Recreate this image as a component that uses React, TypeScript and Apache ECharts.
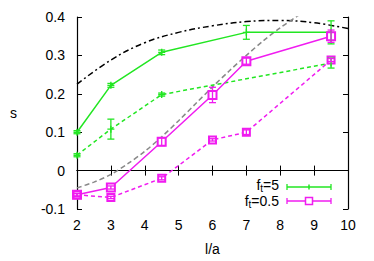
import React, { useEffect, useRef } from "react";
import * as echarts from "echarts";

const xTicks = [2, 3, 4, 5, 6, 7, 8, 9, 10];
const yTicks = [-0.1, 0, 0.1, 0.2, 0.3, 0.4];

// f_t = 5 (green)
const greenSolidX = [2, 3, 4.5, 7, 9.5];
const greenSolidY = [0.1, 0.222, 0.308, 0.36, 0.36];
const greenSolidErr = [0.004, 0.005, 0.006, 0.018, 0.03];

const greenDashX = [2, 3, 4.5, 9.5];
const greenDashY = [0.04, 0.108, 0.198, 0.28];
const greenDashErr = [0.004, 0.026, 0.004, 0.013];

// f_t = 0.5 (magenta)
const magSolidX = [2, 3, 4.5, 6, 7, 9.5];
const magSolidY = [-0.063, -0.044, 0.075, 0.197, 0.285, 0.35];
const magSolidErr = [0.004, 0.004, 0.01, 0.02, 0.008, 0.016];

const magDashX = [2, 3, 4.5, 6, 7, 9.5];
const magDashY = [-0.063, -0.07, -0.02, 0.08, 0.1, 0.288];
const magDashErr = [0.003, 0.003, 0.004, 0.003, 0.006, 0.004];

// reference curves
const blackCurveX = [2, 3, 4, 5, 6, 7, 8, 9, 10];
const blackCurveY = [0.225, 0.288, 0.333, 0.36, 0.377, 0.388, 0.391, 0.385, 0.37];

const grayCurveX = [2, 2.5, 3, 3.5, 4, 4.5, 5, 5.5, 6, 6.5, 7, 7.5, 8, 8.5, 9];
const grayCurveY = [-0.045, -0.03, -0.01, 0.018, 0.05, 0.088, 0.13, 0.174, 0.218, 0.26, 0.3, 0.338, 0.372, 0.402, 0.43];

const GREEN = "#22e622";
const MAGENTA = "#f01cf0";

const zip = (xs: number[], ys: number[]) => xs.map((x, i) => [x, ys[i]]);
const zip3 = (xs: number[], ys: number[], es: number[]) => xs.map((x, i) => [x, ys[i], es[i]]);

const PLUS = "path://M4,0H6V4H10V6H6V10H4V6H0V4H4Z";

function errorSeries(data: number[][], color: string) {
  return {
    type: "custom",
    xAxisIndex: 0,
    yAxisIndex: 0,
    silent: true,
    data,
    renderItem: (params: any, api: any) => {
      const x = api.value(0);
      const y = api.value(1);
      const e = api.value(2);
      const lo = api.coord([x, y - e]);
      const hi = api.coord([x, y + e]);
      const w = 3.5;
      const st = { stroke: color, lineWidth: 1.3 };
      return {
        type: "group",
        children: [
          { type: "line", shape: { x1: lo[0], y1: lo[1], x2: hi[0], y2: hi[1] }, style: st },
          { type: "line", shape: { x1: lo[0] - w, y1: lo[1], x2: lo[0] + w, y2: lo[1] }, style: st },
          { type: "line", shape: { x1: hi[0] - w, y1: hi[1], x2: hi[0] + w, y2: hi[1] }, style: st },
        ],
      };
    },
    z: 3,
  };
}

export default function App() {
  const ref = useRef<HTMLDivElement>(null);
  useEffect(() => {
    if (!ref.current) return;
    const chart = echarts.init(ref.current, undefined, { renderer: "svg" });
    const font = "Liberation Sans, Arial, sans-serif";
    const axisCommon = {
      axisLine: { show: true, lineStyle: { color: "#000", width: 1.2 } },
      axisTick: { show: true, inside: true, length: 5, lineStyle: { color: "#000", width: 1 } },
      splitLine: { show: false },
    };
    const legendRich = {
      a: { fontSize: 14, fontFamily: font, color: "#000" },
      s: { fontSize: 10, fontFamily: font, color: "#000", padding: [7, 0, 0, 0] },
    };
    chart.setOption({
      animation: false,
      backgroundColor: "#fff",
      grid: { left: 77, right: 26, top: 17, bottom: 46 },
      xAxis: [
        {
          type: "value",
          min: 2,
          max: 10,
          interval: 1,
          position: "bottom",
          name: "l/a",
          nameLocation: "middle",
          nameGap: 33,
          nameTextStyle: { fontSize: 14, fontFamily: font, color: "#000" },
          axisLabel: { fontSize: 14, fontFamily: font, color: "#000", margin: 9 },
          ...axisCommon,
        },
        {
          type: "value",
          min: 2,
          max: 10,
          interval: 1,
          position: "top",
          axisLabel: { show: false },
          ...axisCommon,
        },
      ],
      yAxis: [
        {
          type: "value",
          min: -0.1,
          max: 0.4,
          interval: 0.1,
          position: "left",
          name: "s",
          nameLocation: "middle",
          nameGap: 60,
          nameRotate: 0,
          nameTextStyle: { fontSize: 14, fontFamily: font, color: "#000" },
          axisLabel: {
            fontSize: 14,
            fontFamily: font,
            color: "#000",
            margin: 12,
            formatter: (v: number) => (Math.abs(v) < 1e-9 ? "0" : v.toFixed(1)),
          },
          ...axisCommon,
        },
        {
          type: "value",
          min: -0.1,
          max: 0.4,
          interval: 0.1,
          position: "right",
          axisLabel: { show: false },
          ...axisCommon,
        },
      ],
      series: [
        {
          type: "line",
          data: zip(blackCurveX, blackCurveY),
          smooth: 0.4,
          showSymbol: false,
          lineStyle: { color: "#000", width: 1.5, type: [6, 3, 2, 3] },
          z: 1,
        },
        {
          type: "line",
          data: zip(grayCurveX, grayCurveY),
          smooth: 0.3,
          showSymbol: false,
          lineStyle: { color: "#888", width: 1.5, type: [5, 3] },
          z: 1,
        },
        {
          type: "line",
          data: zip(greenSolidX, greenSolidY),
          symbol: PLUS,
          symbolSize: 7,
          itemStyle: { color: GREEN },
          lineStyle: { color: GREEN, width: 1.5 },
          z: 2,
        },
        {
          type: "line",
          data: zip(greenDashX, greenDashY),
          symbol: PLUS,
          symbolSize: 7,
          itemStyle: { color: GREEN },
          lineStyle: { color: GREEN, width: 1.5, type: [4, 3] },
          z: 2,
        },
        {
          type: "line",
          data: zip(magSolidX, magSolidY),
          symbol: "emptyRect",
          symbolSize: 8,
          itemStyle: { color: MAGENTA, borderWidth: 1.5 },
          lineStyle: { color: MAGENTA, width: 1.5 },
          z: 2,
        },
        {
          type: "line",
          data: zip(magDashX, magDashY),
          symbol: "emptyRect",
          symbolSize: 7,
          itemStyle: { color: MAGENTA, borderWidth: 1.5 },
          lineStyle: { color: MAGENTA, width: 1.5, type: [4, 3] },
          z: 2,
        },
        errorSeries(zip3(greenSolidX, greenSolidY, greenSolidErr), GREEN),
        errorSeries(zip3(greenDashX, greenDashY, greenDashErr), GREEN),
        errorSeries(zip3(magSolidX, magSolidY, magSolidErr), MAGENTA),
        errorSeries(zip3(magDashX, magDashY, magDashErr), MAGENTA),
      ],
      graphic: [
        {
          type: "text",
          x: 279,
          y: 185,
          style: { text: "{a|f}{s|t}{a|=5}", rich: legendRich, align: "right", verticalAlign: "middle" },
        },
        {
          type: "text",
          x: 279,
          y: 201,
          style: { text: "{a|f}{s|t}{a|=0.5}", rich: legendRich, align: "right", verticalAlign: "middle" },
        },
        { type: "line", shape: { x1: 287, y1: 187, x2: 331, y2: 187 }, style: { stroke: GREEN, lineWidth: 1.5 } },
        { type: "line", shape: { x1: 287, y1: 184, x2: 287, y2: 190 }, style: { stroke: GREEN, lineWidth: 1.3 } },
        { type: "line", shape: { x1: 331, y1: 184, x2: 331, y2: 190 }, style: { stroke: GREEN, lineWidth: 1.3 } },
        { type: "line", shape: { x1: 309, y1: 184.5, x2: 309, y2: 189.5 }, style: { stroke: GREEN, lineWidth: 1.5 } },
        { type: "line", shape: { x1: 287, y1: 201, x2: 331, y2: 201 }, style: { stroke: MAGENTA, lineWidth: 1.5 } },
        { type: "line", shape: { x1: 287, y1: 198, x2: 287, y2: 204 }, style: { stroke: MAGENTA, lineWidth: 1.3 } },
        { type: "line", shape: { x1: 331, y1: 198, x2: 331, y2: 204 }, style: { stroke: MAGENTA, lineWidth: 1.3 } },
        { type: "rect", shape: { x: 305.5, y: 197.5, width: 7, height: 7 }, style: { stroke: MAGENTA, fill: "#fff", lineWidth: 1.5 } },
      ],
    });
    return () => chart.dispose();
  }, []);
  return <div ref={ref} style={{ width: 374, height: 261, position: "absolute", left: 0, top: 0 }} />;
}
